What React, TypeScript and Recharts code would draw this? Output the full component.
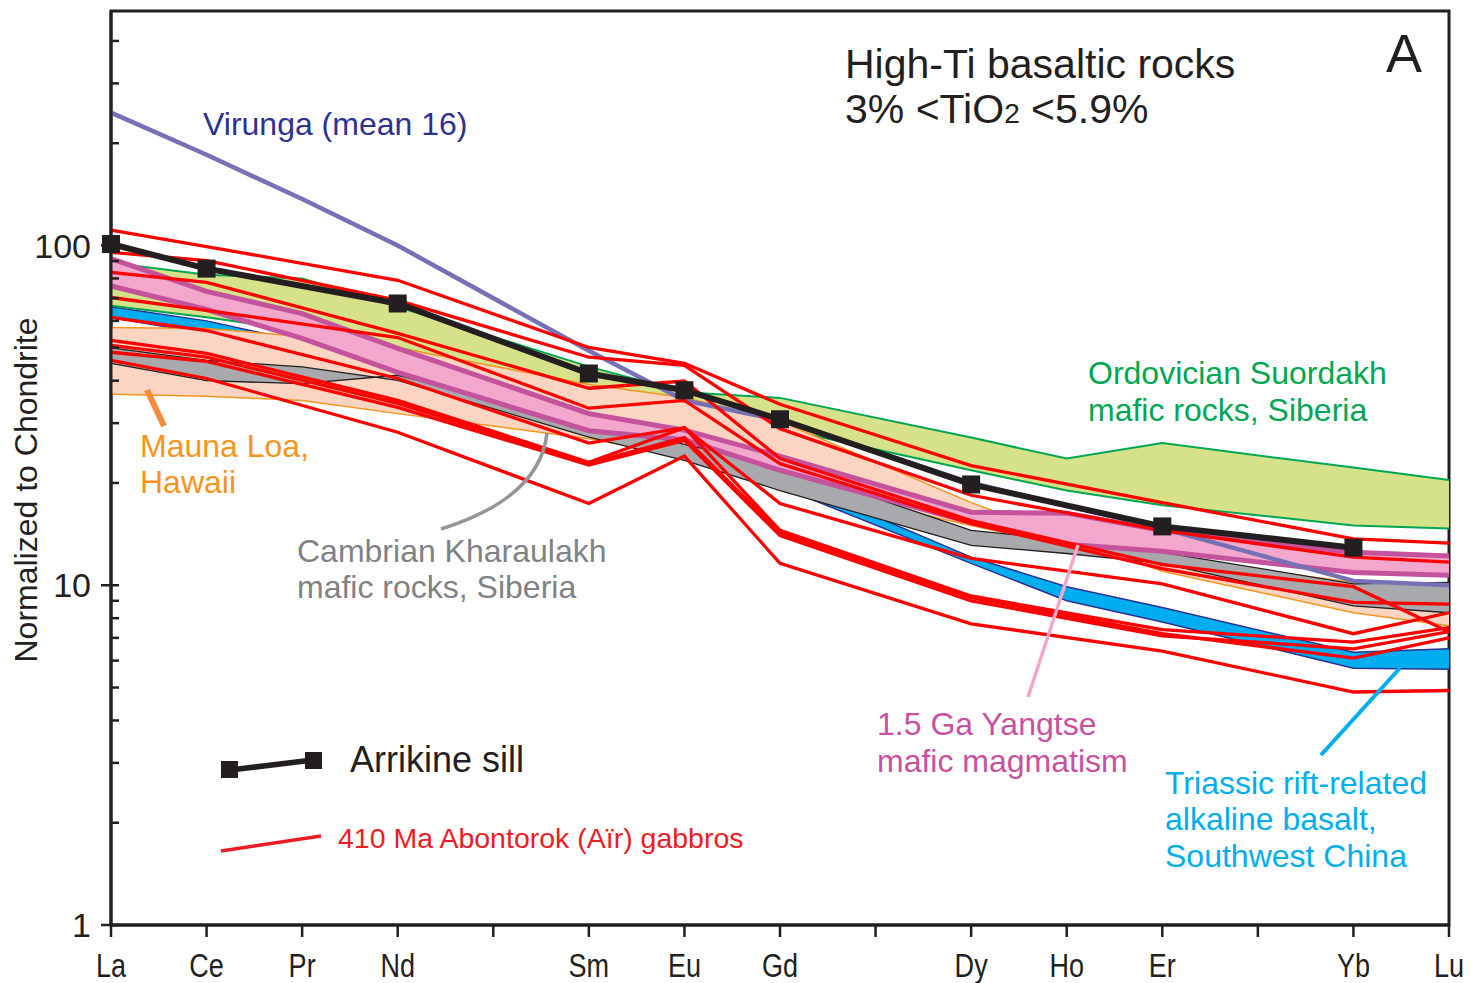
import React from "react";
import { ComposedChart, Line, Area, XAxis, YAxis, ReferenceArea } from "recharts";

// REE order on the x axis; Pm, Tb and Tm only get a tick
const elements = ["La", "Ce", "Pr", "Nd", "Pm", "Sm", "Eu", "Gd", "Tb", "Dy", "Ho", "Er", "Tm", "Yb", "Lu"];
const plotted = ["La", "Ce", "Pr", "Nd", "Sm", "Eu", "Gd", "Dy", "Ho", "Er", "Yb", "Lu"];

const yMajorTicks = [1, 10, 100];
const yMinorTicks = [1, 2, 3, 4, 5, 6, 7, 8, 9, 10, 20, 30, 40, 50, 60, 70, 80, 90, 100, 200, 300, 400];

// Arrikine sill
const arrikine = [101, 85.5, null, 67.5, 42, 37.5, 30.8, 19.8, null, 14.9, 12.9, null];
// Virunga (mean 16)
const virunga = [246, 185, 137, 100, 49, 35, 30.6, 20, null, 14.7, 10.3, 10];

// fields (two edges each)
const suordakhHigh = [89, 82, 80, 66, 44, 37, 35.6, 27.2, 23.6, 26.2, 22.2, 20.4];
const suordakhLow = [66.5, 61.5, 56, 50, 38, 33, 29, 21.8, 19, 17.2, 15, 14.7];
const maunaLoaA = [57.4, 57, 54, 50, 39, 35.7, 30.4, 17.5, 13.8, 11, 8.3, 7.6];
const maunaLoaB = [36.5, 36, 35, 32, 27, 24, 20, 15, 13, 12, 10.2, 10];
const kharaulakhA = [45, 40, 39.2, 41.5, 30.5, 26, 22.5, 14.5, 13.6, 12.5, 10.1, 10.2];
const kharaulakhB = [50, 45.9, 43.9, 40.1, 27.3, 23.3, 19, 13.1, 12.4, 11.6, 8.7, 8.3];
const triassicHigh = [66, 60, 52, 45, 33, 27, 21, 12.1, 9.9, 8.6, 6.35, 6.5];
const triassicLow = [61.4, 55, 47, 40, 30, 25, 19.5, 11.6, 9.0, 7.8, 5.7, 5.66];
const yangtseHigh = [91.5, 73.3, 63, 49.8, 32, 28.6, 24, 16.4, 16.3, 14.5, 12.5, 12.2];
const yangtseLow = [76, 64.8, 53.3, 42.3, 28.5, 26.8, 21.8, 15.3, 13.2, 12.6, 10.9, 10.7];

// 410 Ma Abontorok (Aïr) gabbros
const gabbroA = [111, 99.3, null, 79, 50.1, 45.0, 34.1, 22.5, null, 17.5, 13.7, 13.3];
const gabbroB = [95.5, 90.3, null, 68.9, 46.9, 44.4, 28.9, 18.4, null, 14.5, 12.1, 11.7];
const gabbroC = [83.3, 77.9, null, 55.1, 38.0, 39.9, 23.6, 15.5, null, 11.5, 9.9, 7.3];
const gabbroD = [70.3, 64.4, null, 53.6, 33.2, 35.0, 22.8, 15.2, null, 11.2, 8.9, 8.8];
const gabbroE = [61.4, 56.2, null, 40.6, 26.2, 29.1, 17.4, 12.0, null, 10.1, 7.2, 8.3];
const gabbroF = [52.6, 48.1, null, 35.0, 23.0, 29.1, 14.5, 9.3, null, 7.4, 6.8, 7.5];
const gabbroG = [50.8, 46.9, null, 34.3, 22.9, 27.2, 14.3, 9.2, null, 7.2, 6.1, 7.0];
const gabbroH = [48.5, 45.6, null, 33.4, 22.6, 26.7, 14.0, 9.0, null, 7.1, 6.5, 7.3];
const gabbroI = [45.9, 40.6, null, 28.2, 17.4, 24.0, 11.6, 7.7, null, 6.4, 4.85, 4.9];
const gabbros = [gabbroA, gabbroB, gabbroC, gabbroD, gabbroE, gabbroF, gabbroG, gabbroH, gabbroI];

const rows = plotted.map((el, i) => {
  const row: Record<string, any> = {
    x: elements.indexOf(el),
    arrikine: arrikine[i],
    virunga: virunga[i],
    suordakh: [suordakhLow[i], suordakhHigh[i]],
    maunaLoa: [maunaLoaB[i], maunaLoaA[i]],
    kharaulakh: [kharaulakhB[i], kharaulakhA[i]],
    triassic: [triassicLow[i], triassicHigh[i]],
    yangtse: [yangtseLow[i], yangtseHigh[i]],
  };
  gabbros.forEach((g, k) => {
    row["g" + k] = g[i];
  });
  return row;
});

const INK = "#231f20";
const SANS = "'Liberation Sans', Arial, sans-serif";

function ElementTick(props: any) {
  const { x, y, payload } = props;
  const label = elements[payload.value];
  if (!label || label === "Pm" || label === "Tb" || label === "Tm") return <g />;
  return (
    <g transform={`translate(${x},${y}) scale(0.82,1)`}>
      <text x={0} y={0} dy={38} textAnchor="middle" fontSize={33} fill={INK} fontFamily={SANS}>
        {label}
      </text>
    </g>
  );
}

function SquareDot(props: any) {
  const { cx, cy, index } = props;
  if (cx == null || cy == null) return <g key={"d" + index} />;
  return <rect key={"d" + index} x={cx - 9} y={cy - 9} width={18} height={18} fill={INK} />;
}

export default function App() {
  return (
    <div style={{ position: "absolute", left: 0, top: 0, width: 1471, height: 983, background: "#fff" }}>
      <ComposedChart width={1471} height={983} data={rows} margin={{ top: 11, right: 22, bottom: 0, left: 0 }}>
        <XAxis
          dataKey="x"
          type="number"
          domain={[0, 14]}
          ticks={elements.map((_, i) => i)}
          interval={0}
          height={58}
          tick={<ElementTick />}
          tickSize={12}
          tickMargin={2}
          axisLine={{ stroke: INK, strokeWidth: 3 }}
          tickLine={{ stroke: INK, strokeWidth: 2.5 }}
        />
        <YAxis
          yAxisId="main"
          type="number"
          scale="log"
          domain={[1, 490]}
          allowDataOverflow
          ticks={yMajorTicks}
          width={111}
          tickSize={10}
          tickMargin={10}
          tick={{ fontSize: 34, fill: INK, fontFamily: SANS }}
          axisLine={{ stroke: INK, strokeWidth: 3 }}
          tickLine={{ stroke: INK, strokeWidth: 2.5 }}
        />
        <YAxis
          yAxisId="minor"
          type="number"
          scale="log"
          domain={[1, 490]}
          allowDataOverflow
          mirror
          ticks={yMinorTicks}
          tickFormatter={() => ""}
          tickSize={8}
          axisLine={false}
          tickLine={{ stroke: INK, strokeWidth: 2.5 }}
        />
        <ReferenceArea
          yAxisId="main"
          x1={0}
          x2={14}
          y1={1}
          y2={490}
          fill="none"
          stroke={INK}
          strokeWidth={3}
        />

        <Area yAxisId="main" type="linear" dataKey="triassic" fill="#00aeef" fillOpacity={1} stroke="#2e3192" strokeWidth={1.5} dot={false} activeDot={false} isAnimationActive={false} />
        <Area yAxisId="main" type="linear" dataKey="suordakh" fill="#d5e28a" fillOpacity={1} stroke="#00a651" strokeWidth={2} dot={false} activeDot={false} isAnimationActive={false} />
        <Area yAxisId="main" type="linear" dataKey="maunaLoa" fill="#fcd5c2" fillOpacity={1} stroke="#f7941d" strokeWidth={1.5} dot={false} activeDot={false} isAnimationActive={false} />
        <Area yAxisId="main" type="linear" dataKey="kharaulakh" fill="#a7a9ac" fillOpacity={1} stroke={INK} strokeWidth={1.3} dot={false} activeDot={false} isAnimationActive={false} />
        <Area yAxisId="main" type="linear" dataKey="yangtse" fill="#f3a7cc" fillOpacity={1} stroke="#c4529c" strokeWidth={5} dot={false} activeDot={false} isAnimationActive={false} />

        <Line yAxisId="main" type="linear" dataKey="virunga" stroke="#7670b5" strokeWidth={4.5} dot={false} activeDot={false} connectNulls isAnimationActive={false} />
        {gabbros.map((_, k) => (
          <Line
            key={"g" + k}
            yAxisId="main"
            type="linear"
            dataKey={"g" + k}
            stroke="#ff0000"
            strokeWidth={3.3}
            dot={false}
            activeDot={false}
            connectNulls
            isAnimationActive={false}
          />
        ))}
        <Line yAxisId="main" type="linear" dataKey="arrikine" stroke={INK} strokeWidth={6} dot={<SquareDot />} activeDot={false} connectNulls isAnimationActive={false} />
      </ComposedChart>

      <svg width={1471} height={983} style={{ position: "absolute", left: 0, top: 0, pointerEvents: "none" }} fontFamily={SANS}>
        <text x={37} y={490} transform="rotate(-90 37 490)" textAnchor="middle" fontSize={32} fill={INK}>
          Normalized to Chondrite
        </text>

        <text x={845} y={78} fontSize={41} fill={INK}>High-Ti basaltic rocks</text>
        <text x={845} y={123} fontSize={41} fill={INK}>
          3% &lt;TiO<tspan fontSize={28}>2</tspan> &lt;5.9%
        </text>
        <text x={1386} y={72} fontSize={54} fill={INK}>A</text>

        <text x={203} y={135} fontSize={32} fill="#2e3192">Virunga (mean 16)</text>

        <text x={1088} y={384} fontSize={32} fill="#00a651">Ordovician Suordakh</text>
        <text x={1088} y={421} fontSize={32} fill="#00a651">mafic rocks, Siberia</text>

        <line x1={147} y1={390} x2={164} y2={426} stroke="#f58b3c" strokeWidth={6} />
        <text x={140} y={457} fontSize={32} fill="#f7941d">Mauna Loa,</text>
        <text x={140} y={493} fontSize={32} fill="#f7941d">Hawaii</text>

        <path d="M547,433 Q540,498 441,529" fill="none" stroke="#939598" strokeWidth={3.5} />
        <text x={297} y={562} fontSize={32} fill="#808285">Cambrian Kharaulakh</text>
        <text x={297} y={598} fontSize={32} fill="#808285">mafic rocks, Siberia</text>

        <line x1={1078} y1={545} x2={1028} y2={697} stroke="#f4a6cb" strokeWidth={3.5} />
        <text x={877} y={735} fontSize={32} fill="#c8519f">1.5 Ga Yangtse</text>
        <text x={877} y={772} fontSize={32} fill="#c8519f">mafic magmatism</text>

        <line x1={1400} y1={668} x2={1321} y2={755} stroke="#00aeef" strokeWidth={4} />
        <text x={1165} y={794} fontSize={32} fill="#00aeef">Triassic rift-related</text>
        <text x={1165} y={830} fontSize={32} fill="#00aeef">alkaline basalt,</text>
        <text x={1165} y={867} fontSize={32} fill="#00aeef">Southwest China</text>

        <line x1={230} y1={770} x2={313} y2={760} stroke={INK} strokeWidth={5.5} />
        <rect x={221} y={761} width={17} height={17} fill={INK} />
        <rect x={305} y={752} width={17} height={17} fill={INK} />
        <text x={350} y={772} fontSize={36} fill={INK}>Arrikine sill</text>

        <line x1={221} y1={851} x2={321} y2={836} stroke="#ed1c24" strokeWidth={3.5} />
        <text x={338} y={848} fontSize={28.5} fill="#ed1c24">410 Ma Abontorok (Aïr) gabbros</text>
      </svg>
    </div>
  );
}
